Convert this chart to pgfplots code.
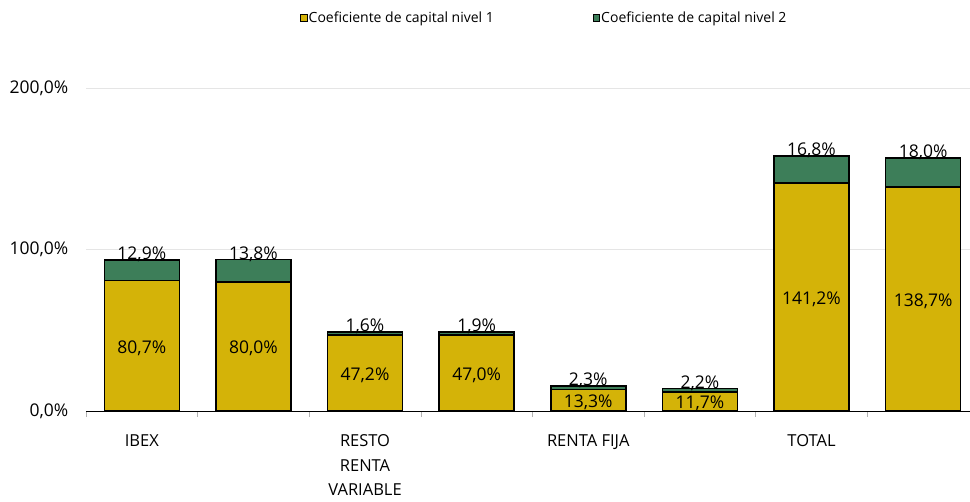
\documentclass[border=0pt]{standalone}
\usepackage{pgfplots}
\pgfplotsset{compat=1.18}
\usepackage{fontspec}
\setmainfont{Open Sans}
\definecolor{yel}{RGB}{212,179,8}
\definecolor{grn}{RGB}{61,126,89}
\begin{document}
\begin{tikzpicture}
\path[use as bounding box] (-86bp,-91bp) rectangle (884bp,411bp);
\begin{axis}[
  at={(0,0)}, anchor=south west,
  scale only axis, width=884bp, height=323bp,
  ybar stacked, bar width=75bp,
  xmin=-0.5, xmax=7.42, ymin=0, ymax=200,
  axis x line*=bottom, axis y line*=left,
  x axis line style={line width=0.8bp, black},
  y axis line style={draw=none},
  xtick={0,2,4,6},
  xticklabels={IBEX,{RESTO\\RENTA\\VARIABLE},{RENTA FIJA},TOTAL},
  major x tick style={draw=none},
  minor xtick={-0.5,0.5,1.5,2.5,3.5,4.5,5.5,6.5},
  minor x tick style={gray!60, line width=0.6bp},
  minor tick length=6bp,
  tick align=outside,
  xticklabel style={align=center, font=\fontsize{16.5bp}{24.5bp}\selectfont, yshift=-16bp},
  ytick={0,100,200},
  yticklabels={{0,0\%},{100,0\%},{200,0\%}},
  yticklabel style={font=\fontsize{17.5bp}{19bp}\selectfont, xshift=-10bp},
  major y tick style={draw=none},
  ymajorgrids, grid style={gray!20, line width=0.6bp},
  /pgf/number format/assume math mode=true,
  legend columns=2,
  legend style={draw=none, at={(rel axis cs:0.518,1.217)}, anchor=center,
     font=\fontsize{14bp}{16bp}\selectfont,
     /tikz/every even column/.append style={column sep=98bp},
     /tikz/every odd column/.append style={column sep=0bp},
     /tikz/every node/.append style={inner xsep=1bp}},
  legend image code/.code={\draw[#1, line width=0.8bp, draw=black] (0bp,-3.3bp) rectangle (6.5bp,3.3bp);},
]
\addplot+[fill=yel, draw=black, line width=1.5bp,
  nodes near coords={\pgfplotspointmeta\%}, point meta=explicit symbolic,
  every node near coord/.append style={anchor=center, yshift=-2bp, font=\fontsize{17.5bp}{20bp}\selectfont, text=black}]
coordinates {(0,80.7) [80,7] (1,80.0) [80,0] (2,47.2) [47,2] (3,47.0) [47,0]
 (4,13.3) [13,3] (5,11.7) [11,7] (6,141.2) [141,2] (7,138.7) [138,7]};
\addlegendentry{Coeficiente de capital nivel 1}
\addplot+[fill=grn, draw=black, line width=1.5bp,
  nodes near coords={\pgfplotspointmeta\%}, point meta=explicit symbolic,
  visualization depends on={rawy \as \rawy},
  every node near coord/.append style={anchor=base, yshift={0.8075bp*\rawy+0.5bp}, inner sep=0pt, font=\fontsize{17.5bp}{20bp}\selectfont, text=black}]
coordinates {(0,12.9) [12,9] (1,13.8) [13,8] (2,1.6) [1,6] (3,1.9) [1,9]
 (4,2.3) [2,3] (5,2.2) [2,2] (6,16.8) [16,8] (7,18.0) [18,0]};
\addlegendentry{Coeficiente de capital nivel 2}
\end{axis}
\end{tikzpicture}
\end{document}
